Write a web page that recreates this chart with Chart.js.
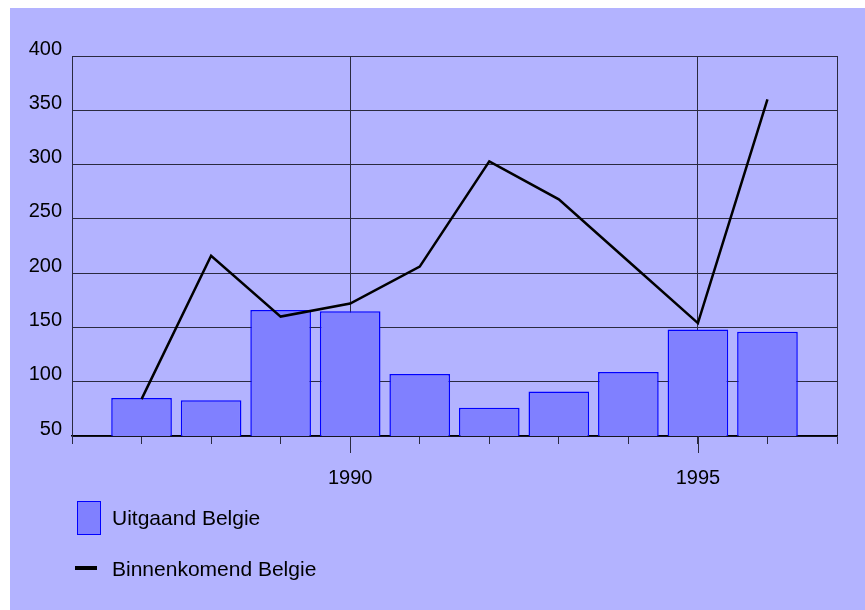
<!DOCTYPE html>
<html><head><meta charset="utf-8">
<script src="https://cdn.jsdelivr.net/npm/chart.js@4"></script>
<style>
html,body{margin:0;padding:0;background:#fff;width:865px;height:610px;overflow:hidden;}
#wrap{position:absolute;left:10px;top:8px;width:855px;height:602px;background:#b3b3ff;}
#c{position:absolute;left:0;top:0;}
.lt{position:absolute;font-family:"Liberation Sans",Arial,sans-serif;font-size:21px;line-height:24px;color:#000;white-space:nowrap;}
.mk{position:absolute;box-sizing:border-box;}
</style></head><body>
<div id="wrap"><canvas id="c" width="855" height="602"></canvas><div id="legend"></div></div>
<script>
// ---- data ----
const years = [1987, 1988, 1989, 1990, 1991, 1992, 1993, 1994, 1995, 1996];
const uitgaand = [85, 83, 166, 165, 107, 76, 91, 109, 148, 146];
const binnenkomend = [84, 216, 160, 172, 206, 303, 268, 211, 154, 360];
const xTickYears = [1986, 1987, 1988, 1989, 1990, 1991, 1992, 1993, 1994, 1995, 1996, 1997];
const xLabelYears = [1990, 1995];
const xGridYears = [1990, 1995, 1997];
const yTicks = [50, 100, 150, 200, 250, 300, 350, 400];
const seriesNames = ['Uitgaand Belgie', 'Binnenkomend Belgie'];

const FONT = '"Liberation Sans", Arial, sans-serif';
const GRID = '#2a2a40';

const longTicks = {
  id: 'longTicks',
  afterDraw(chart) {
    const xs = chart.scales.x;
    const ctx = chart.ctx;
    ctx.save();
    ctx.strokeStyle = GRID;
    ctx.lineWidth = 1;
    xLabelYears.forEach(v => {
      const px = Math.round(xs.getPixelForValue(v)) + 0.5;
      ctx.beginPath();
      ctx.moveTo(px, xs.top);
      ctx.lineTo(px, xs.top + 17);
      ctx.stroke();
    });
    ctx.restore();
  }
};

const chart = new Chart(document.getElementById('c'), {
  type: 'bar',
  data: {
    datasets: [
      {
        type: 'line',
        label: seriesNames[1],
        data: years.map((y, i) => ({ x: y, y: binnenkomend[i] })),
        borderColor: '#000',
        backgroundColor: '#000',
        borderWidth: 2.5,
        pointRadius: 0,
        tension: 0,
        fill: false,
        borderJoinStyle: 'miter',
        order: 0
      },
      {
        type: 'bar',
        label: seriesNames[0],
        data: years.map((y, i) => ({ x: y, y: uitgaand[i] })),
        backgroundColor: '#8080ff',
        borderColor: '#0000ff',
        borderWidth: 1.5,
        barPercentage: 0.872,
        categoryPercentage: 1.0,
        order: 1
      }
    ]
  },
  options: {
    responsive: false,
    animation: false,
    devicePixelRatio: 1,
    layout: { padding: { left: 0, right: 28, top: 48, bottom: 0 } },
    plugins: { legend: { display: false }, tooltip: { enabled: false } },
    scales: {
      x: {
        type: 'linear',
        min: 1986,
        max: 1997,
        offset: false,
        afterBuildTicks: s => { s.ticks = xTickYears.map(v => ({ value: v })); },
        ticks: {
          autoSkip: false,
          maxRotation: 0,
          padding: 22,
          color: '#000',
          font: { family: FONT, size: 20 },
          callback: v => xLabelYears.includes(v) ? String(v) : ''
        },
        grid: {
          offset: false,
          color: c => (c.tick && xGridYears.includes(c.tick.value)) ? GRID : 'rgba(0,0,0,0)',
          tickColor: GRID,
          tickLength: 8,
          lineWidth: 1
        },
        border: { color: '#000', width: 1.5 },
        afterFit: s => { s.height = 174; }
      },
      y: {
        min: 50,
        max: 400,
        afterBuildTicks: s => { s.ticks = yTicks.map(v => ({ value: v })); },
        ticks: {
          padding: 10,
          labelOffset: -7,
          color: '#000',
          font: { family: FONT, size: 20 }
        },
        grid: { color: GRID, drawTicks: false, lineWidth: 1 },
        border: { color: GRID, width: 1 },
        afterFit: s => { s.width = 62; }
      }
    }
  },
  plugins: [longTicks]
});

// HTML legend built from the chart's datasets
(function () {
  const leg = document.getElementById('legend');
  const bar = chart.data.datasets[1];
  const line = chart.data.datasets[0];
  const items = [
    { ds: bar, mk: { left: 67, top: 493, width: 24, height: 34, background: bar.backgroundColor, border: '1.5px solid ' + bar.borderColor }, textTop: 498 },
    { ds: line, mk: { left: 65, top: 558, width: 22, height: 4, background: line.borderColor }, textTop: 549 }
  ];
  items.forEach(it => {
    const m = document.createElement('div');
    m.className = 'mk';
    m.style.left = it.mk.left + 'px';
    m.style.top = it.mk.top + 'px';
    m.style.width = it.mk.width + 'px';
    m.style.height = it.mk.height + 'px';
    m.style.background = it.mk.background;
    if (it.mk.border) m.style.border = it.mk.border;
    leg.appendChild(m);
    const t = document.createElement('div');
    t.className = 'lt';
    t.style.left = '102px';
    t.style.top = it.textTop + 'px';
    t.textContent = it.ds.label;
    leg.appendChild(t);
  });
})();
</script>
</body></html>
